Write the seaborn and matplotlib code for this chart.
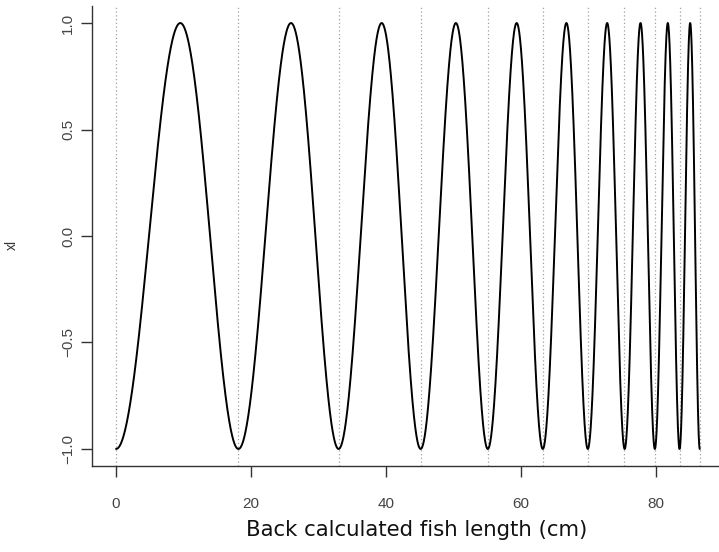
import numpy as np
import pandas as pd
import matplotlib
matplotlib.use("Agg")
import matplotlib.pyplot as plt
import seaborn as sns

# Annual ring positions (back-calculated length, cm)
ring_ages = [0, 1, 2, 3, 4, 5, 6, 7, 8, 9, 10]
ring_lengths = [0.0, 18.1, 33.0, 45.1, 55.1, 63.2, 69.9, 75.3, 79.8, 83.5, 86.5]

# Growth curve parameters read from ring spacing (L = Linf * (1 - exp(-K t)))
Linf = 100.0
K = 0.2
amplitude = 1.0

x_limits = [-3.56, 92.5]
y_limits = [-1.08, 1.08]
x_ticks = [0, 20, 40, 60, 80]
y_ticks = [-1.0, -0.5, 0.0, 0.5, 1.0]
y_ticklabels = ["\u22121.0", "\u22120.5", "0.0", "0.5", "1.0"]

age = np.linspace(ring_ages[0], ring_ages[-1], 3000)
df = pd.DataFrame({
    "length": Linf * (1 - np.exp(-K * age)),
    "xl": -amplitude * np.cos(2 * np.pi * age),
})

sns.set_theme(style="ticks")
plt.rcParams["font.family"] = ["Liberation Sans", "DejaVu Sans"]

W, H = 719, 552
fig = plt.figure(figsize=(W / 100, H / 100), dpi=100)
left_px, right_px, top_px, bottom_px = 92, 740.5, 6, 466
ax = fig.add_axes([left_px / W, 1 - bottom_px / H,
                   (right_px - left_px) / W, (bottom_px - top_px) / H])

for L in ring_lengths:
    ax.axvline(L, color="#a0a0a0", linestyle=(0, (1, 2)), linewidth=0.9, zorder=1)

sns.lineplot(data=df, x="length", y="xl", ax=ax, color="black",
             linewidth=1.4, sort=False, estimator=None, zorder=3)

ax.set_xlim(*x_limits)
ax.set_ylim(*y_limits)

ax.set_xticks(x_ticks)
ax.set_xticklabels([str(v) for v in x_ticks])
ax.set_yticks(y_ticks)
ax.set_yticklabels(y_ticklabels, rotation=90, va="center")

ax.tick_params(axis="both", direction="out", length=8, width=1.0,
               color="#333333", labelsize=11, labelcolor="#444444")
ax.tick_params(axis="x", pad=14)
ax.tick_params(axis="y", pad=4)

for s in ["top", "right"]:
    ax.spines[s].set_visible(False)
for s in ["left", "bottom"]:
    ax.spines[s].set_color("#333333")
    ax.spines[s].set_linewidth(1.0)

ax.set_xlabel("")
ax.set_ylabel("")
fig.text((left_px + right_px) / 2 / W, 1 - 530 / H,
         "Back calculated fish length (cm)", ha="center", va="center",
         fontsize=15.3, family="DejaVu Sans", color="#111111")
fig.text(12 / W, 1 - 245 / H, "xl", rotation=90, ha="center", va="center",
         fontsize=10, color="#333333")

fig.savefig("out.png", dpi=100)
